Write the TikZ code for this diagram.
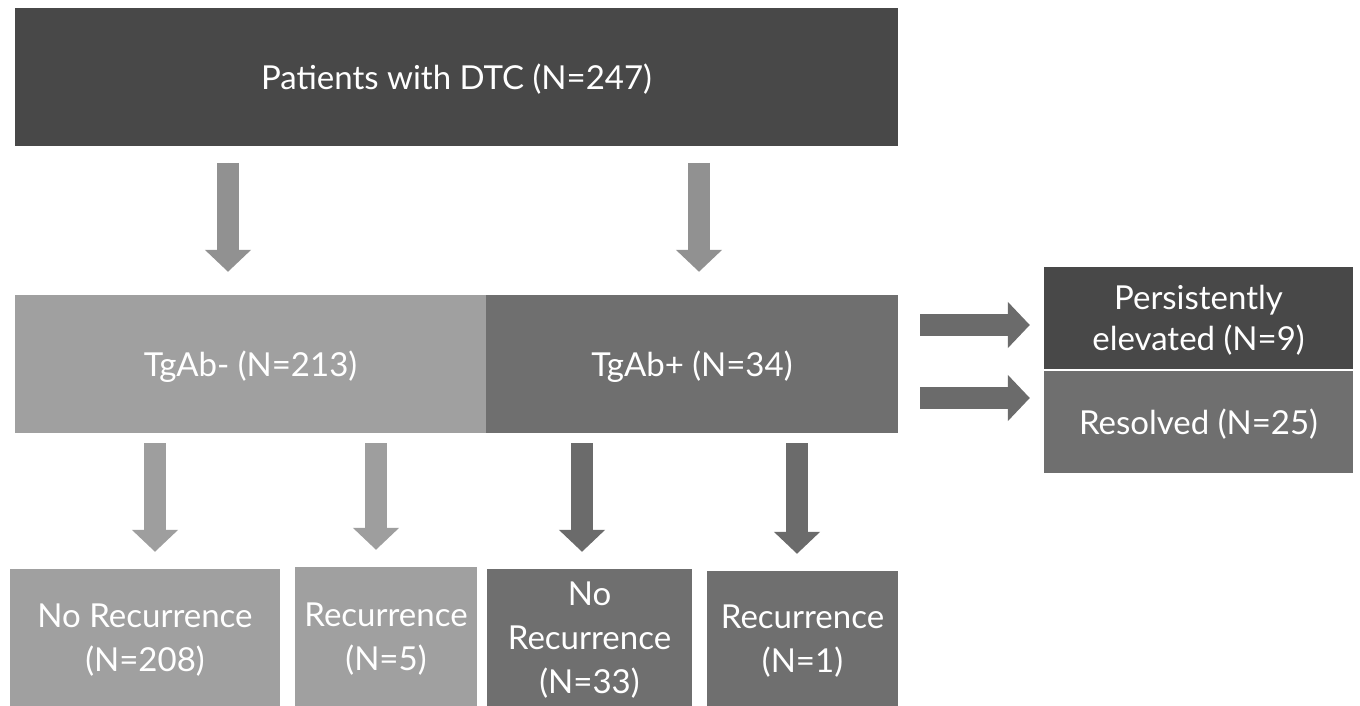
\documentclass[tikz,border=0pt]{standalone}
\usepackage{fontspec}
\setmainfont{Lato}
\usetikzlibrary{arrows.meta,positioning}
\definecolor{darkbox}{HTML}{484848}
\definecolor{midbox}{HTML}{6F6F6F}
\definecolor{lightbox}{HTML}{A0A0A0}
\definecolor{toparr}{HTML}{919191}
\definecolor{lightarr}{HTML}{9E9E9E}
\definecolor{darkarr}{HTML}{6B6B6B}

\begin{document}
\begin{tikzpicture}[x=1pt,y=-1pt]
        \tikzstyle{box}=[draw=none,text=white,align=center,inner sep=0pt,text depth=0pt,font=\fontsize{33}{44}\selectfont]
        \tikzstyle{fat}=[line width=22pt,-{Triangle[length=22pt,width=45pt]}]
        \useasboundingbox[fill=white] (0,0) rectangle (1360,706);

        % boxes
        \node[box,fill=darkbox,minimum width=883pt,minimum height=138pt] (top) at (456.5,77) {Patients with DTC (N=247)};
        \node[box,fill=lightbox,minimum width=471pt,minimum height=138pt] (tgneg) at (250.5,364) {TgAb- (N=213)};
        \node[box,fill=midbox,minimum width=412pt,minimum height=138pt] (tgpos) at (692,364) {TgAb+ (N=34)};
        \node[box,fill=darkbox,minimum width=309pt,minimum height=102pt,font=\fontsize{33}{41}\selectfont] (pers) at (1198.5,318) {Persistently\\elevated (N=9)};
        \node[box,fill=midbox,minimum width=309pt,minimum height=102pt] (resol) at (1198.5,422) {Resolved (N=25)};
        \node[box,fill=lightbox,minimum width=270pt,minimum height=137pt] (b1) at (145,637.5) {No Recurrence\\(N=208)};
        \node[box,fill=lightbox,minimum width=182pt,minimum height=139pt] (b2) at (386,636.5) {Recurrence\\(N=5)};
        \node[box,fill=midbox,minimum width=205pt,minimum height=137pt] (b3) at (589.5,637.5) {No\\Recurrence\\(N=33)};
        \node[box,fill=midbox,minimum width=191pt,minimum height=135pt] (b4) at (802.5,638.5) {Recurrence\\(N=1)};

        % arrows
        \foreach \nm/\x in {ta/228, tb/699}
                \coordinate (\nm) at (\x,163);
        \draw[fat,draw=toparr,fill=toparr,shorten >=23pt] (ta) -- (ta |- tgneg.north);
        \draw[fat,draw=toparr,fill=toparr,shorten >=23pt] (tb) -- (tb |- tgpos.north);

        \coordinate (ra) at (920,325);
        \coordinate (rb) at (920,398);
        \draw[fat,draw=darkarr,fill=darkarr,shorten >=14pt] (ra) -- (pers.west |- ra);
        \draw[fat,draw=darkarr,fill=darkarr,shorten >=14pt] (rb) -- (resol.west |- rb);

        \foreach \nm/\x/\to/\col in {da/155/b1/lightarr, db/376/b2/lightarr, dc/582/b3/darkarr, dd/797/b4/darkarr}{
                \coordinate (\nm) at (\x,443);
                \draw[fat,draw=\col,fill=\col,shorten >=17pt] (\nm) -- (\nm |- \to.north);
        }
\end{tikzpicture}
\end{document}
